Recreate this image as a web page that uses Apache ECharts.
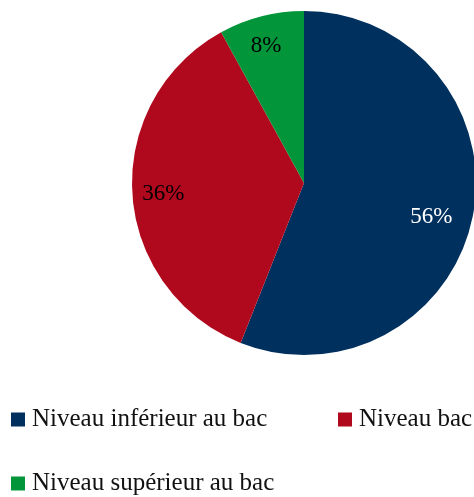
<!DOCTYPE html>
<html><head><meta charset="utf-8">
<script src="https://cdn.jsdelivr.net/npm/echarts@6/dist/echarts.min.js"></script>
<style>html,body{margin:0;padding:0;background:#fff}#c{width:474px;height:497px}</style>
</head><body><div id="c"></div>
<script>
const categories = ['Niveau inférieur au bac', 'Niveau bac', 'Niveau supérieur au bac'];
const values = [56, 36, 8];
const colors = ['#00305E', '#B0091E', '#02953A'];
const labelColors = ['#ffffff', '#000000', '#000000'];

const font = 'Liberation Serif';
const chart = echarts.init(document.getElementById('c'), null, {renderer: 'canvas'});
const data = categories.map((n, i) => ({name: n, value: values[i], itemStyle: {color: colors[i]}}));
const labelOffsets = [[-14, 7], [3, 2], [-2, 2]];
const labelData = categories.map((n, i) => ({
  name: n, value: values[i],
  itemStyle: {color: 'rgba(0,0,0,0)'},
  label: {color: labelColors[i], offset: labelOffsets[i]}
}));
const legendPos = [[11, 407], [338, 407], [11, 471]];
chart.setOption({
  animation: false,
  legend: categories.map((n, i) => ({
    data: [n], left: legendPos[i][0], top: legendPos[i][1],
    icon: 'rect', itemWidth: 14, itemHeight: 14, itemGap: 0,
    padding: 0,
    textStyle: {fontFamily: font, fontSize: 25, lineHeight: 14, color: '#111', padding: [0, 0, 0, 2]}
  })),
  series: [
    {type: 'pie', center: [304, 183], radius: [0, 172], startAngle: 90, clockwise: true,
     data: data, label: {show: false}, labelLine: {show: false}, silent: true},
    {type: 'pie', center: [304, 183], radius: [110, 172], startAngle: 90, clockwise: true,
     data: labelData, silent: true, legendHoverLink: false,
     label: {show: true, position: 'inside', formatter: '{c}%', fontFamily: font, fontSize: 23},
     labelLine: {show: false}}
  ]
});
</script></body></html>
